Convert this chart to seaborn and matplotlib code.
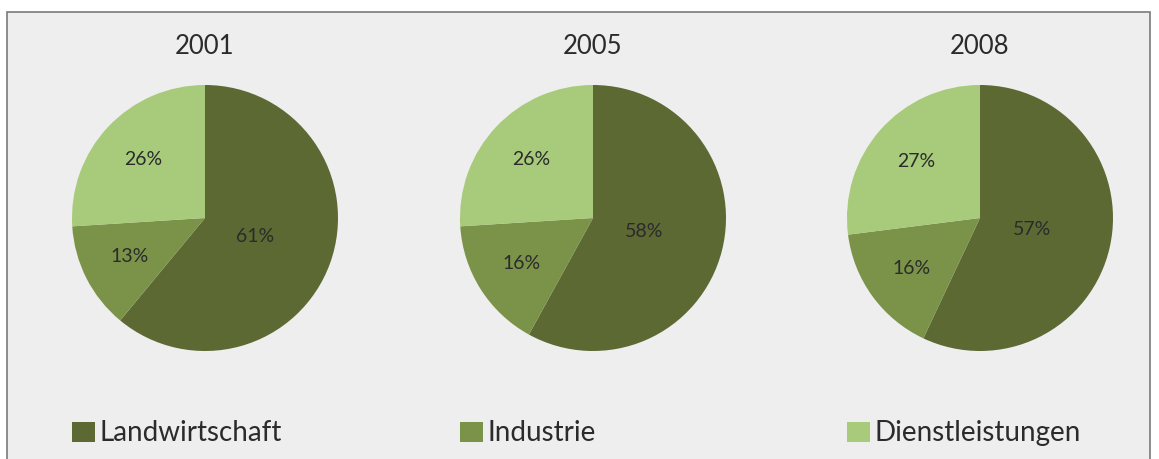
import matplotlib
matplotlib.use("Agg")
import matplotlib.pyplot as plt
from matplotlib.patches import Rectangle, Patch
import seaborn as sns

# Daten
years = ["2001", "2005", "2008"]
sectors = ["Landwirtschaft", "Industrie", "Dienstleistungen"]
shares_2001 = [61, 13, 26]
shares_2005 = [58, 16, 26]
shares_2008 = [57, 16, 27]
shares = [shares_2001, shares_2005, shares_2008]

sns.set_theme(style="white")
plt.rcParams["font.family"] = ["Lato", "DejaVu Sans"]

colors = sns.color_palette(["#5c6933", "#7b9348", "#a7ca7b"])
text_col = "#2b2b2b"
label_radius = [0.40, 0.64, 0.64]

W, H = 1159, 459
fig = plt.figure(figsize=(W / 100, H / 100), dpi=100, facecolor="white")

# Rahmen
fig.patches.append(Rectangle((7 / W, -0.05), 1143 / W, 1.05 - 12 / H,
                             transform=fig.transFigure, facecolor="#eeeeee",
                             edgecolor="#7a7a7a", linewidth=1.2, zorder=-10))

centers_x = [205, 593, 980]
cy = 218
r = 133

for i, (year, vals) in enumerate(zip(years, shares)):
    ax = fig.add_axes([(centers_x[i] - r) / W, 1 - (cy + r) / H, 2 * r / W, 2 * r / H])
    ax.patch.set_alpha(0)
    wedges, texts, autotexts = ax.pie(vals, colors=colors, startangle=90, counterclock=False,
                                      autopct="%d%%", pctdistance=1.0, radius=1.0,
                                      wedgeprops=dict(linewidth=0),
                                      textprops=dict(color=text_col, fontsize=14))
    for t, f in zip(autotexts, label_radius):
        x, y = t.get_position()
        t.set_position((x * f, y * f))
    ax.set_xlim(-1, 1)
    ax.set_ylim(-1, 1)
    ax.set_aspect("equal")
    ax.axis("off")
    ax.text(0, 1.0 + 39 / r, year, ha="center", va="center", fontsize=18.5, color=text_col)

    leg = ax.legend(handles=[Patch(facecolor=colors[i], edgecolor="none", label=sectors[i])],
                    loc="center left", bbox_to_anchor=(0, -0.31), frameon=False,
                    fontsize=20, borderpad=0, borderaxespad=0,
                    handlelength=0.83, handleheight=0.72, handletextpad=0.15)
    for t in leg.get_texts():
        t.set_color(text_col)

fig.savefig("out.png", dpi=100, facecolor=fig.get_facecolor())
